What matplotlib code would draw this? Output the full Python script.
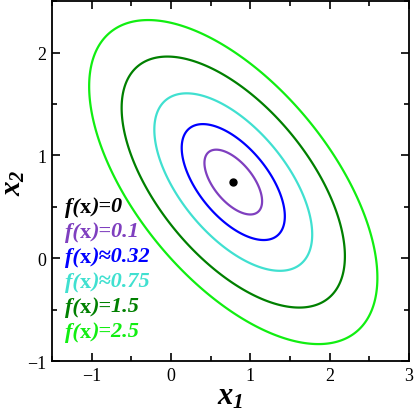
import numpy as np
import matplotlib
matplotlib.use("Agg")
from matplotlib import pyplot as plt
from matplotlib.ticker import MultipleLocator

plt.rcParams['font.family'] = ['Liberation Serif', 'DejaVu Serif']
plt.rcParams['mathtext.fontset'] = 'custom'
plt.rcParams['mathtext.it'] = 'Liberation Serif:italic:bold'
plt.rcParams['mathtext.rm'] = 'Liberation Serif:italic:bold'
plt.rcParams['axes.unicode_minus'] = True

# quadratic f(x) = (x - c)^T A (x - c)
center = [0.785, 0.742]
A = [[1.163, 0.793], [0.793, 1.551]]
levels = [0.1, 0.32, 0.75, 1.5, 2.5]
level_colors = ['#7f3fbf', '#0000ff', '#40e0d0', '#008000', '#11ee11']
labels = ['0', '0.1', '0.32', '0.75', '1.5', '2.5']
relations = ['=', '=', '\u2248', '\u2248', '=', '=']
label_colors = ['black'] + level_colors

fig = plt.figure(figsize=(4.15, 4.10), dpi=100)
ax = fig.add_axes([0.1253, 0.1159, 0.8602, 0.8792])

x1 = np.linspace(-1.5, 3, 600)
x2 = np.linspace(-1, 2.5, 600)
X1, X2 = np.meshgrid(x1, x2)
d1 = X1 - center[0]
d2 = X2 - center[1]
F = A[0][0] * d1**2 + 2 * A[0][1] * d1 * d2 + A[1][1] * d2**2

ax.contour(X1, X2, F, levels=levels, colors=level_colors, linewidths=1.6)
ax.plot(center[0], center[1], 'o', color='black', markersize=5)

ax.set_xlim(-1.5, 3)
ax.set_ylim(-1, 2.5)
ax.xaxis.set_major_locator(MultipleLocator(1))
ax.xaxis.set_minor_locator(MultipleLocator(0.5))
ax.yaxis.set_major_locator(MultipleLocator(1))
ax.yaxis.set_minor_locator(MultipleLocator(0.5))
ax.tick_params(which='both', direction='in', top=True, right=True,
               labelsize=13, width=1.2)
ax.tick_params(which='major', length=6, pad=4)
ax.tick_params(which='minor', length=3.5)
for s in ax.spines.values():
    s.set_linewidth(1.3)

ax.set_xlabel('$x_1$', fontsize=22, labelpad=-2)
ax.set_ylabel('$x_2$', fontsize=21, labelpad=0)

# legend-like labels: "f(" bold italic, "x" bold upright, ")=..." bold italic
y0 = 0.453
step = 0.2425
for i in range(len(labels)):
    c = label_colors[i]
    t1 = ax.text(-1.33, y0 - i * step, 'f(', fontsize=16, fontweight='bold',
                 fontstyle='italic', color=c, va='baseline')
    t2 = ax.annotate('x', xy=(1, 0), xycoords=t1, va='bottom', fontsize=16,
                     fontweight='bold', color=c)
    ax.annotate(')' + relations[i] + labels[i], xy=(1, 0), xycoords=t2,
                va='bottom', fontsize=16, fontweight='bold',
                fontstyle='italic', color=c)

fig.savefig('out.png', dpi=100)
